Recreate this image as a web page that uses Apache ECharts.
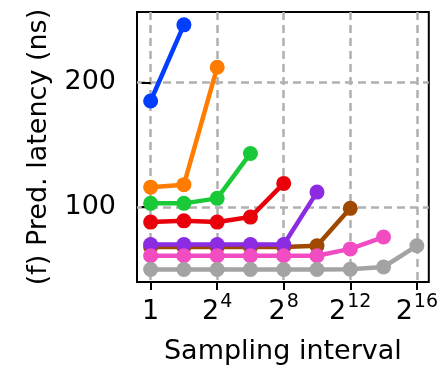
<!DOCTYPE html>
<html>
<head>
<meta charset="utf-8">
<script src="https://cdn.jsdelivr.net/npm/echarts@6/dist/echarts.min.js"></script>
<style>
  html, body { margin: 0; padding: 0; background: #fff; }
  #chart { width: 441px; height: 370px; }
</style>
</head>
<body>
<div id="chart"></div>
<script>
  // sampling interval as log2 exponent
  var xExp = [0, 2, 4, 6, 8, 10, 12, 14, 16];
  var xTicks = [0, 4, 8, 12, 16];
  var yTicks = [100, 200];

  var blueY = [185, 246];
  var orangeY = [116, 118, 212];
  var greenY = [103, 103, 107, 143];
  var redY = [88, 89, 88, 92, 119];
  var purpleY = [70, 70, 70, 70, 70, 112];
  var brownY = [68, 68, 68, 68, 68, 69, 99];
  var pinkY = [61, 61, 61, 61, 61, 61, 66.5, 76];
  var grayY = [50, 50, 50, 50, 50, 50, 50.3, 52, 69];

  var font = 'DejaVu Sans';
  var chart = echarts.init(document.getElementById('chart'));

  function mk(vals, color, z) {
    return {
      type: 'line',
      data: vals.map(function (v, i) { return [xExp[i], v]; }),
      symbol: 'circle',
      symbolSize: 15,
      color: color,
      lineStyle: { width: 4.5, color: color },
      itemStyle: { color: color },
      z: z,
      clip: false,
      animation: false
    };
  }

  var option = {
    animation: false,
    grid: {
      left: 137, right: 12, top: 12, bottom: 84,
      show: true, borderColor: '#000', borderWidth: 2, backgroundColor: 'transparent'
    },
    xAxis: {
      type: 'value',
      min: -0.82, max: 16.72,
      name: 'Sampling interval',
      nameLocation: 'middle',
      nameGap: 56,
      nameTextStyle: { fontFamily: font, fontSize: 27, color: '#000' },
      axisLine: { show: false },
      axisTick: { show: true, inside: false, length: 8, customValues: xTicks, lineStyle: { color: '#000', width: 2 } },
      axisLabel: {
        customValues: xTicks,
        margin: 11,
        formatter: function (v) { return v === 0 ? '{b|1}' : '{b|2}{s|' + v + '}'; },
        rich: {
          b: { fontFamily: font, fontSize: 27, color: '#000', lineHeight: 32, verticalAlign: 'bottom' },
          s: { fontFamily: font, fontSize: 19, color: '#000', lineHeight: 32, verticalAlign: 'top', padding: [0, 0, 0, 1] }
        }
      },
      splitLine: { show: true, lineStyle: { color: '#b0b0b0', width: 2.5, type: [8, 5] } }
    },
    yAxis: {
      type: 'value',
      min: 40, max: 256.3,
      name: '(f) Pred. latency (ns)',
      nameLocation: 'middle',
      nameGap: 85,
      nameTextStyle: { fontFamily: font, fontSize: 27, color: '#000' },
      axisLine: { show: false },
      axisTick: { show: true, inside: false, length: 9, customValues: yTicks, lineStyle: { color: '#000', width: 2 } },
      axisLabel: { customValues: yTicks, margin: 21, fontFamily: font, fontSize: 27, color: '#000' },
      splitLine: { show: true, lineStyle: { color: '#b0b0b0', width: 2.5, type: [8, 5] } }
    },
    series: [
      mk(blueY, '#023eff', 10),
      mk(orangeY, '#ff7c00', 10),
      mk(greenY, '#1ac938', 10),
      mk(redY, '#e8000b', 10),
      mk(brownY, '#9f4800', 5),
      mk(purpleY, '#8b2be2', 10),
      mk(pinkY, '#f14cc1', 10),
      mk(grayY, '#a3a3a3', 10)
    ]
  };
  chart.setOption(option);
</script>
</body>
</html>
